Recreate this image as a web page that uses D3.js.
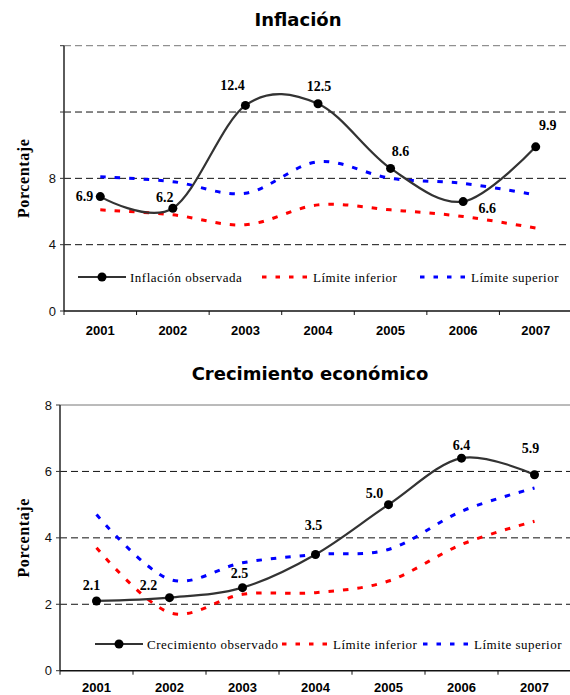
<!DOCTYPE html>
<html><head><meta charset="utf-8">
<script src="https://cdn.jsdelivr.net/npm/d3@7"></script>
<style>
body{margin:0;background:#fff;}
svg{display:block;}
</style></head>
<body>
<svg id="chart" width="570" height="695"></svg>
<script>
const years = ["2001","2002","2003","2004","2005","2006","2007"];

const inflObserved = [6.9, 6.2, 12.4, 12.5, 8.6, 6.6, 9.9];
const inflLower    = [6.1, 5.8, 5.2, 6.4, 6.1, 5.7, 5.0];
const inflUpper    = [8.1, 7.8, 7.1, 9.0, 8.0, 7.7, 7.0];
const inflTicks    = [0, 4, 8, 12, 16];
const inflTickLabels = ["0", "4", "8", "", ""];

const growthObserved = [2.1, 2.2, 2.5, 3.5, 5.0, 6.4, 5.9];
const growthLower    = [3.7, 1.75, 2.3, 2.35, 2.7, 3.8, 4.5];
const growthUpper    = [4.7, 2.75, 3.25, 3.5, 3.65, 4.8, 5.5];
const growthTicks    = [0, 2, 4, 6, 8];
const growthTickLabels = ["0", "2", "4", "6", "8"];

// label placement (pixel offsets of text baseline from point): [dx, dy, anchor]
const inflLabelPos = [[-7,4,"end"],[-8,-6,"middle"],[-13,-15,"middle"],[1,-13,"middle"],[10,-12,"middle"],[24,11,"middle"],[12,-17,"middle"]];
const growthLabelPos = [[-5,-11,"middle"],[-21,-8,"middle"],[-3,-10,"middle"],[-2,-24,"middle"],[-14,-7,"middle"],[0,-8,"middle"],[-4,-22,"middle"]];

const svg = d3.select("#chart");

function drawChart(cfg) {
  const g = svg.append("g");
  const x = d3.scaleBand().domain(years).range([cfg.x0, cfg.x1]).paddingInner(0).paddingOuter(0);
  const y = d3.scaleLinear().domain([0, cfg.ticks[cfg.ticks.length-1]]).range([cfg.yb, cfg.yt]);
  const cx = d => x(d) + x.bandwidth()/2;

  // title
  g.append("text").attr("x", cfg.titleX).attr("y", cfg.titleY)
    .attr("text-anchor","middle")
    .style("font-family","'DejaVu Sans', Verdana, sans-serif")
    .style("font-weight","bold").style("font-size","18px")
    .text(cfg.title);

  // gridlines
  cfg.ticks.forEach((t,i) => {
    if (t === 0) return;
    const isTop = i === cfg.ticks.length-1;
    g.append("line").attr("x1", cfg.x0).attr("x2", cfg.x1)
      .attr("y1", y(t)).attr("y2", y(t))
      .attr("stroke", isTop ? "#777" : "#111")
      .attr("stroke-width", 1)
      .attr("stroke-dasharray", isTop && cfg.solidTop ? null : "7,4");
  });

  // y axis
  g.append("line").attr("x1", cfg.x0).attr("x2", cfg.x0).attr("y1", cfg.yt).attr("y2", cfg.yb)
    .attr("stroke","#333").attr("stroke-width",1.6);
  cfg.ticks.forEach((t,i) => {
    g.append("line").attr("x1", cfg.x0-4).attr("x2", cfg.x0).attr("y1", y(t)).attr("y2", y(t))
      .attr("stroke","#333").attr("stroke-width",1);
    if (cfg.tickLabels[i]) {
      g.append("text").attr("x", cfg.x0-8).attr("y", y(t)).attr("dy","0.35em")
        .attr("text-anchor","end")
        .style("font-family","'Liberation Sans', Arial, sans-serif").style("font-size","13px")
        .attr("fill","#111")
        .text(cfg.tickLabels[i]);
    }
  });

  // x axis
  g.append("line").attr("x1", cfg.x0).attr("x2", cfg.x1).attr("y1", cfg.yb).attr("y2", cfg.yb)
    .attr("stroke","#111").attr("stroke-width",1.6);
  years.forEach(yr => {
    g.append("line").attr("x1", x(yr)).attr("x2", x(yr)).attr("y1", cfg.yb).attr("y2", cfg.yb+4)
      .attr("stroke","#111").attr("stroke-width",1);
    g.append("text").attr("x", cx(yr)).attr("y", cfg.yb + cfg.xLabelDy)
      .attr("text-anchor","middle")
      .style("font-family","'Liberation Sans', Arial, sans-serif")
      .style("font-weight","bold").style("font-size","13px")
      .text(yr);
  });

  // y label
  g.append("text")
    .attr("transform", `translate(${cfg.yLabelX},${(cfg.yt+cfg.yb)/2}) rotate(-90)`)
    .attr("text-anchor","middle")
    .style("font-family","'Liberation Serif', 'Times New Roman', serif")
    .style("font-weight","bold").style("font-size","16px")
    .style("letter-spacing","0.6px")
    .text("Porcentaje");

  const line = d3.line().x((d,i) => cx(years[i])).y(d => y(d)).curve(d3.curveCardinal.tension(0));

  // limits
  g.append("path").attr("d", line(cfg.lower)).attr("fill","none")
    .attr("stroke","#ff0000").attr("stroke-width",3).attr("stroke-dasharray","5.5,9");
  g.append("path").attr("d", line(cfg.upper)).attr("fill","none")
    .attr("stroke","#0000ff").attr("stroke-width",3).attr("stroke-dasharray","5.5,9");

  // observed
  g.append("path").attr("d", line(cfg.observed)).attr("fill","none")
    .attr("stroke","#333").attr("stroke-width",2.2);
  g.selectAll(null).data(cfg.observed).enter().append("circle")
    .attr("cx",(d,i)=>cx(years[i])).attr("cy",d=>y(d)).attr("r",4.5).attr("fill","#000");

  // data labels
  g.selectAll(null).data(cfg.observed).enter().append("text")
    .attr("x",(d,i)=>cx(years[i]) + cfg.labelPos[i][0])
    .attr("y",(d,i)=>y(d) + cfg.labelPos[i][1])
    .attr("text-anchor",(d,i)=>cfg.labelPos[i][2])
    .style("font-family","'Liberation Serif', 'Times New Roman', serif")
    .style("font-weight","bold").style("font-size","14px")
    .text(d => d3.format(".1f")(d));

  // legend
  const ly = cfg.legendY;
  const lg = g.append("g");
  const lf = s => s.style("font-family","'Liberation Serif', 'Times New Roman', serif").style("font-size","13px").style("letter-spacing","0.5px");
  lg.append("line").attr("x1",cfg.leg[0]).attr("x2",cfg.leg[0]+48).attr("y1",ly).attr("y2",ly)
    .attr("stroke","#333").attr("stroke-width",2.2);
  lg.append("circle").attr("cx",cfg.leg[0]+24).attr("cy",ly).attr("r",4.5).attr("fill","#000");
  lg.append("text").attr("x",cfg.leg[0]+52).attr("y",ly).attr("dy","0.35em").call(lf).text(cfg.obsName);
  lg.append("line").attr("x1",cfg.leg[1]).attr("x2",cfg.leg[1]+48).attr("y1",ly).attr("y2",ly)
    .attr("stroke","#ff0000").attr("stroke-width",3).attr("stroke-dasharray","4.5,9");
  lg.append("text").attr("x",cfg.leg[1]+51).attr("y",ly).attr("dy","0.35em").call(lf).text("Límite inferior");
  lg.append("line").attr("x1",cfg.leg[2]).attr("x2",cfg.leg[2]+48).attr("y1",ly).attr("y2",ly)
    .attr("stroke","#0000ff").attr("stroke-width",3).attr("stroke-dasharray","4.5,9");
  lg.append("text").attr("x",cfg.leg[2]+51).attr("y",ly).attr("dy","0.35em").call(lf).text("Límite superior");
}

drawChart({
  title:"Inflación", titleX:298, titleY:26,
  x0:64, x1:572, yt:45.7, yb:311,
  ticks:inflTicks, tickLabels:inflTickLabels, solidTop:false,
  observed:inflObserved, lower:inflLower, upper:inflUpper,
  labelPos:inflLabelPos, xLabelDy:24, yLabelX:29,
  legendY:277, leg:[78,262,420], obsName:"Inflación observada"
});

drawChart({
  title:"Crecimiento económico", titleX:310, titleY:380,
  x0:60, x1:571, yt:405, yb:670.7,
  ticks:growthTicks, tickLabels:growthTickLabels, solidTop:true,
  observed:growthObserved, lower:growthLower, upper:growthUpper,
  labelPos:growthLabelPos, xLabelDy:21.5, yLabelX:29,
  legendY:644, leg:[95,282,423], obsName:"Crecimiento observado"
});
</script>
</body></html>
